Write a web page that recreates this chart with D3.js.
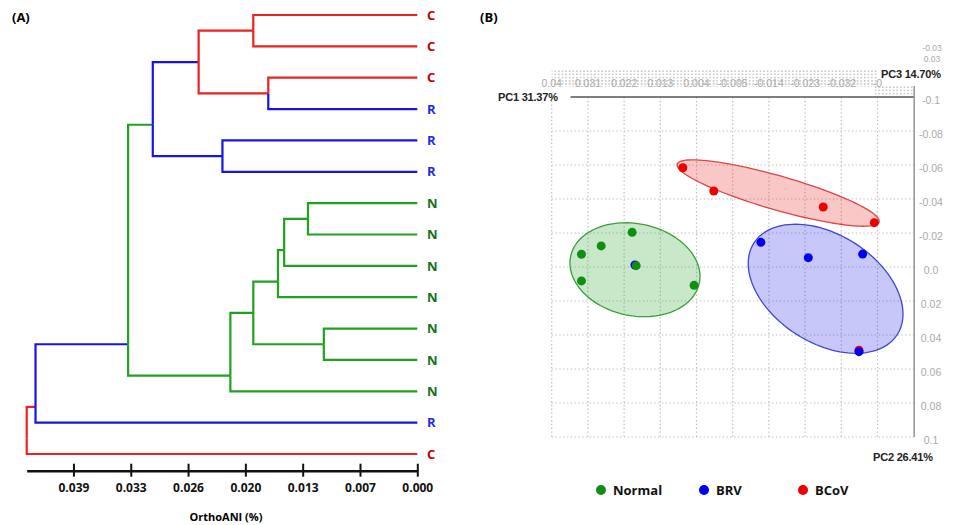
<!DOCTYPE html>
<meta charset="utf-8">
<style>
body { margin: 0; background: #fff; }
svg { display: block; font-family: "Open Sans", sans-serif; }
.link { fill: none; stroke-width: 2.2px; }
.leaf { font-weight: bold; font-size: 13px; }
.ani-axis path, .ani-axis line { stroke: #111; }
.ani-axis path { stroke-width: 2.6px; }
.ani-axis line { stroke-width: 2px; }
.ani-axis text { font: bold 12px "Open Sans", sans-serif; fill: #111; }
.grid line { stroke: #bdbdbd; stroke-width: 1.2px; stroke-dasharray: 1.4,2.4; }
.faint { font: 10.5px "Liberation Sans", Arial, sans-serif; fill: #aaa; }
.pc { font: bold 11px "Liberation Sans", Arial, sans-serif; fill: #222; letter-spacing: -0.2px; }
.legend text { font: bold 13px "Open Sans", sans-serif; fill: #111; }
</style>
<svg width="958" height="525"></svg>
<script src="https://d3js.org/d3.v7.min.js"></script>
<script>

// ---------- (A) OrthoANI dendrogram ----------
// id (dotted path), join distance, branch group, leaf-index override for the join
var treeRows = [
  ["1", 0.0443, "C", ""],
  ["1.1", 0.0433, "C", ""],
  ["1.1.1", 0.0328, "R", 10.5],
  ["1.1.1.1", 0.0300, "N", ""],
  ["1.1.1.1.1", 0.0248, "R", ""],
  ["1.1.1.1.1.1", 0.0186, "C", ""],
  ["1.1.1.1.1.1.1", 0, "C", ""],
  ["1.1.1.1.1.1.2", 0, "C", ""],
  ["1.1.1.1.1.2", 0.0169, "C", ""],
  ["1.1.1.1.1.2.1", 0, "C", ""],
  ["1.1.1.1.1.2.2", 0, "R", ""],
  ["1.1.1.1.2", 0.0221, "R", ""],
  ["1.1.1.1.2.1", 0, "R", ""],
  ["1.1.1.1.2.2", 0, "R", ""],
  ["1.1.1.2", 0.0212, "N", ""],
  ["1.1.1.2.1", 0.0186, "N", ""],
  ["1.1.1.2.1.1", 0.0158, "N", ""],
  ["1.1.1.2.1.1.1", 0.0151, "N", ""],
  ["1.1.1.2.1.1.1.1", 0.0124, "N", ""],
  ["1.1.1.2.1.1.1.1.1", 0, "N", ""],
  ["1.1.1.2.1.1.1.1.2", 0, "N", ""],
  ["1.1.1.2.1.1.1.2", 0, "N", ""],
  ["1.1.1.2.1.1.2", 0, "N", ""],
  ["1.1.1.2.1.2", 0.0106, "N", ""],
  ["1.1.1.2.1.2.1", 0, "N", ""],
  ["1.1.1.2.1.2.2", 0, "N", ""],
  ["1.1.1.2.2", 0, "N", ""],
  ["1.1.2", 0, "R", ""],
  ["1.2", 0, "C", ""]
];
var aniTicks = [0.039, 0.0325, 0.026, 0.0195, 0.013, 0.0065, 0];
var aniLabels = ["0.039", "0.033", "0.026", "0.020", "0.013", "0.007", "0.000"];

var lineColour = { C: "#ee2020", R: "#1515e6", N: "#22a022" };
var labelColour = { C: "#c00000", R: "#1a2ee0", N: "#17701a" };

// ---------- (B) PCA ----------
var groups = ["Normal", "BRV", "BCoV"];
var groupColour = ["#0f8f12", "#0000ee", "#ee0000"];
var pc1 = [
  [0.0200, 0.0277, 0.0326, 0.0326, 0.0190, 0.0046],
  [0.0193, -0.0120, -0.0238, -0.0373, -0.0364],
  [-0.0364, 0.0074, -0.0003, -0.0275, -0.0402]
];
var pc2 = [
  [-0.0204, -0.0124, -0.0075, 0.0082, -0.0008, 0.0108],
  [-0.0012, -0.0145, -0.0055, -0.0076, 0.0498],
  [0.0490, -0.0584, -0.0447, -0.0353, -0.0261]
];
// ellipse centre and two axis vectors, in PC1/PC2 units
var ellCentre = [[0.0193, 0.0016], [-0.0281, 0.0128], [-0.0163, -0.0435]];
var ellU = [[-0.0160, 0.0078], [-0.0178, 0.0270], [-0.0251, 0.0170]];
var ellV = [[0.0023, 0.0265], [0.0073, 0.0267], [0.0012, 0.0096]];
var ellFill = ["rgba(40,160,40,0.25)", "rgba(30,30,230,0.25)", "rgba(235,30,30,0.25)"];
var ellStroke = ["#3a9e3a", "#4444d2", "#e04444"];

var pc1Ticks = [0.04, 0.031, 0.022, 0.013, 0.004, -0.005, -0.014, -0.023, -0.032, -0.041];
var pc1Labels = ["0.04", "0.031", "0.022", "0.013", "0.004", "-0.005", "-0.014", "-0.023", "-0.032", "-0"];
var pc2Ticks = [-0.1, -0.08, -0.06, -0.04, -0.02, 0, 0.02, 0.04, 0.06, 0.08, 0.1];
var pc2Labels = ["-0.1", "-0.08", "-0.06", "-0.04", "-0.02", "0.0", "0.02", "0.04", "0.06", "0.08", "0.1"];
var pc3Labels = ["-0.03", "0.03"];

var svg = d3.select("svg");

// ===== panel A =====
var rows = treeRows.map(function(r) { return { id: r[0], h: r[1], g: r[2], at: r[3] }; });
var root = d3.stratify()
    .parentId(function(d) { return d.id.substring(0, d.id.lastIndexOf(".")); })(rows);

root.leaves().forEach(function(d, i) { d.pos = i; });
root.eachAfter(function(d) {
  if (!d.children) return;
  var first = d.children[0].leaves();
  d.pos = d.data.at !== "" ? +d.data.at : first[first.length - 1].pos + 0.5;
});

var tx = d3.scaleLinear().domain([0.0443, 0]).range([26.7, 417.3]);
var ty = d3.scaleLinear().domain([0, 14]).range([15, 454]);

var gA = svg.append("g");

gA.selectAll(".link")
  .data(root.descendants().slice(1))
  .enter().append("path")
    .attr("class", "link")
    .attr("stroke", function(d) { return lineColour[d.data.g]; })
    .attr("d", function(d) {
      return "M" + tx(d.parent.data.h) + "," + ty(d.parent.pos)
           + "V" + ty(d.pos) + "H" + tx(d.data.h);
    });

gA.selectAll(".leaf")
  .data(root.leaves())
  .enter().append("text")
    .attr("class", "leaf")
    .attr("x", 427)
    .attr("y", function(d) { return ty(d.pos); })
    .attr("dy", "0.36em")
    .attr("fill", function(d) { return labelColour[d.data.g]; })
    .text(function(d) { return d.data.g; });

var ax = gA.append("g")
    .attr("class", "ani-axis")
    .attr("transform", "translate(0,470.7)")
    .call(d3.axisBottom(tx).tickValues(aniTicks).tickSizeOuter(0)
      .tickFormat(function(d, i) { return aniLabels[i]; }));
ax.selectAll(".tick line").attr("y1", -7).attr("y2", 6);
ax.selectAll(".tick text").attr("y", 17).attr("dy", "0.35em");

gA.append("text")
    .attr("x", 226).attr("y", 517).attr("dy", "0.35em")
    .attr("text-anchor", "middle")
    .style("font", "bold 11px 'Open Sans', sans-serif")
    .text("OrthoANI (%)");

svg.append("text").attr("x", 12).attr("y", 17).attr("dy", "0.35em")
    .style("font", "bold 13px 'Open Sans', sans-serif").text("(A)");
svg.append("text").attr("x", 480).attr("y", 17).attr("dy", "0.35em")
    .style("font", "bold 13px 'Open Sans', sans-serif").text("(B)");

// ===== panel B =====
var x1 = d3.scaleLinear().domain([0.04, -0.05]).range([551.7, 913.7]);
var y2 = d3.scaleLinear().domain([-0.1, 0.1]).range([97, 437]);

var gB = svg.append("g");

// depth band of the PC3 plane, seen edge-on
var pat = svg.append("defs").append("pattern")
    .attr("id", "dots").attr("patternUnits", "userSpaceOnUse")
    .attr("width", 3.6).attr("height", 3.2);
pat.append("rect").attr("width", 1.6).attr("height", 1.6).attr("fill", "#c6c6c6");
gB.append("rect").attr("x", x1(0.04)).attr("y", 70).attr("width", x1(-0.041) - x1(0.04)).attr("height", 17)
    .attr("fill", "url(#dots)");
gB.append("rect").attr("x", x1(-0.04)).attr("y", 86).attr("width", x1(-0.05) - x1(-0.04)).attr("height", 9)
    .attr("fill", "url(#dots)");

var grid = gB.append("g").attr("class", "grid");
grid.selectAll(".v").data(pc1Ticks).enter().append("line")
    .attr("x1", function(d) { return x1(d); }).attr("x2", function(d) { return x1(d); })
    .attr("y1", y2(-0.1)).attr("y2", y2(0.1));
grid.selectAll(".h").data(pc2Ticks.slice(1)).enter().append("line")
    .attr("x1", x1(0.04)).attr("x2", x1(-0.05))
    .attr("y1", function(d) { return y2(d); }).attr("y2", function(d) { return y2(d); });

gB.selectAll(".xl").data(pc1Ticks).enter().append("text")
    .attr("class", "faint")
    .attr("x", function(d) { return x1(d); }).attr("y", 83).attr("dy", "0.35em")
    .attr("text-anchor", "middle")
    .text(function(d, i) { return pc1Labels[i]; });

gB.selectAll(".yl").data(pc2Ticks).enter().append("text")
    .attr("class", "faint")
    .attr("x", 931).attr("y", function(d) { return y2(d) + 3.5; }).attr("dy", "0.35em")
    .attr("text-anchor", "middle")
    .text(function(d, i) { return pc2Labels[i]; });

gB.selectAll(".zl").data(pc3Labels).enter().append("text")
    .attr("class", "faint")
    .style("font-size", "8.5px")
    .attr("x", 932).attr("y", function(d, i) { return 48 + i * 11; })
    .attr("dy", "0.35em").attr("text-anchor", "middle")
    .text(function(d) { return d; });

gB.append("line").attr("x1", 570.5).attr("x2", x1(-0.05) + 1).attr("y1", y2(-0.1)).attr("y2", y2(-0.1))
    .attr("stroke", "#555").attr("stroke-width", 1.6);
gB.append("line").attr("x1", x1(-0.05) + 0.5).attr("x2", x1(-0.05) + 0.5).attr("y1", 86).attr("y2", y2(0.1))
    .attr("stroke", "#999").attr("stroke-width", 1.6);

gB.append("text").attr("class", "pc").attr("x", 498).attr("y", 97).attr("dy", "0.35em").text("PC1 31.37%");
gB.append("text").attr("class", "pc").attr("x", 881).attr("y", 74).attr("dy", "0.35em").text("PC3 14.70%");
gB.append("text").attr("class", "pc").attr("x", 873).attr("y", 457).attr("dy", "0.35em").text("PC2 26.41%");

// confidence ellipses
var ellLine = d3.line().x(function(p) { return x1(p[0]); }).y(function(p) { return y2(p[1]); })
    .curve(d3.curveLinearClosed);
gB.selectAll(".ell").data(groups).enter().append("path")
    .attr("fill", function(d, i) { return ellFill[i]; })
    .attr("stroke", function(d, i) { return ellStroke[i]; })
    .attr("stroke-width", 1.3)
    .attr("d", function(d, i) {
      var c = ellCentre[i], u = ellU[i], v = ellV[i];
      return ellLine(d3.range(0, 360, 3).map(function(a) {
        var t = a * Math.PI / 180;
        return [c[0] + u[0] * Math.cos(t) + v[0] * Math.sin(t),
                c[1] + u[1] * Math.cos(t) + v[1] * Math.sin(t)];
      }));
    });

// samples: BCoV first, then BRV, then Normal on top
[2, 1, 0].forEach(function(gi) {
  gB.selectAll(".pt" + gi).data(pc1[gi]).enter().append("circle")
      .attr("cx", function(d) { return x1(d); })
      .attr("cy", function(d, i) { return y2(pc2[gi][i]); })
      .attr("r", 4.5)
      .attr("fill", groupColour[gi]);
});

// legend
var legX = [601, 704, 803];
var leg = gB.append("g").attr("class", "legend").selectAll("g").data(groups).enter().append("g")
    .attr("transform", function(d, i) { return "translate(" + legX[i] + ",490)"; });
leg.append("circle").attr("r", 5).attr("fill", function(d, i) { return groupColour[i]; });
leg.append("text").attr("x", 12).attr("dy", "0.35em").text(function(d) { return d; });

</script>
